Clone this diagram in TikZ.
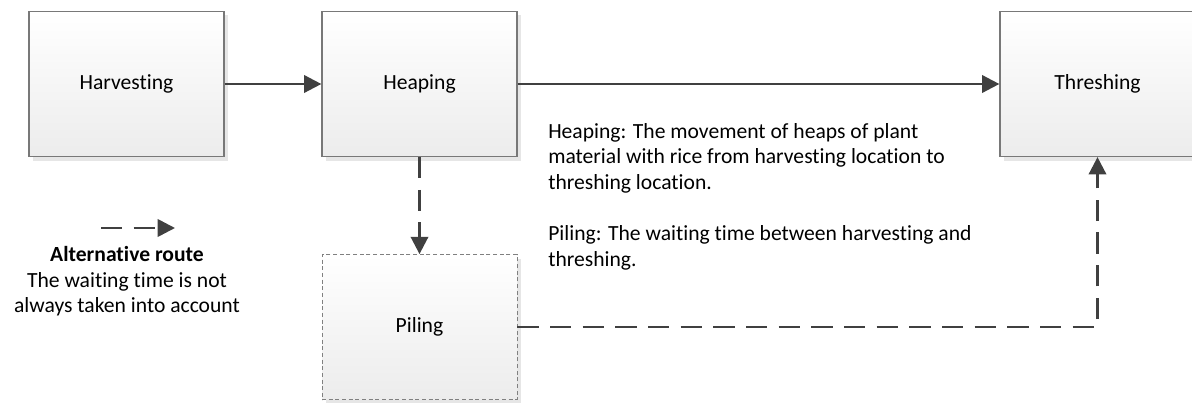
\documentclass[tikz,border=0pt]{standalone}
\usepackage{fontspec}
\setmainfont{Carlito}[Ligatures={CommonOff}]
\usetikzlibrary{arrows.meta,shadows}
\definecolor{arrowgray}{RGB}{64,64,64}
\definecolor{boxline}{RGB}{120,120,120}
\definecolor{boxbottom}{RGB}{236,236,236}
\definecolor{shadowgray}{RGB}{230,230,230}
\begin{document}
\begin{tikzpicture}[x=0.75pt, y=-0.75pt,
        every node/.style={font=\fontsize{16.2}{19.2}\selectfont},
        stagebox/.style={draw=boxline, line width=0.9pt, top color=white, bottom color=boxbottom,
            minimum width=146.25pt, minimum height=108.75pt,
            drop shadow={shadow xshift=3pt, shadow yshift=-3pt, fill=shadowgray, opacity=1}},
        waitbox/.style={stagebox, draw=gray, line width=0.6pt, dash pattern=on 3pt off 2pt},
        flow/.style={draw=arrowgray, line width=2pt, -{Triangle[length=13pt,width=13pt]}},
        altflow/.style={flow, dash pattern=on 16pt off 8.5pt}]
        \useasboundingbox (0,0) rectangle (1192,403);

        \node[stagebox] (harvesting) at (126.5,84) {Harvesting};
        \node[stagebox] (heaping) at (419.5,84) {Heaping};
        \node[stagebox] (threshing) at (1097.5,84) {Threshing};
        \node[waitbox] (piling) at (419.5,327) {Piling};

        \draw[flow] (harvesting) -- (heaping);
        \draw[flow] (heaping) -- (threshing);
        \draw[altflow] (heaping) -- (piling);
        \draw[altflow] (piling.east) -| (threshing.south);

        \coordinate (legendstart) at (101,228);
        \coordinate (legendend) at (175,228);
        \draw[altflow] (legendstart) -- (legendend);
        \node[align=center, anchor=north, inner sep=0] (legendtext) at (127,246)
            {\textbf{Alternative route}\\The waiting time is not\\always taken into account};

        \node[align=left, anchor=north west, inner sep=0] (notes) at (548,123)
            {Heaping: The movement of heaps of plant\\material with rice from harvesting location to\\threshing location.\\[19.2pt]Piling: The waiting time between harvesting and\\threshing.};
    \end{tikzpicture}
\end{document}
